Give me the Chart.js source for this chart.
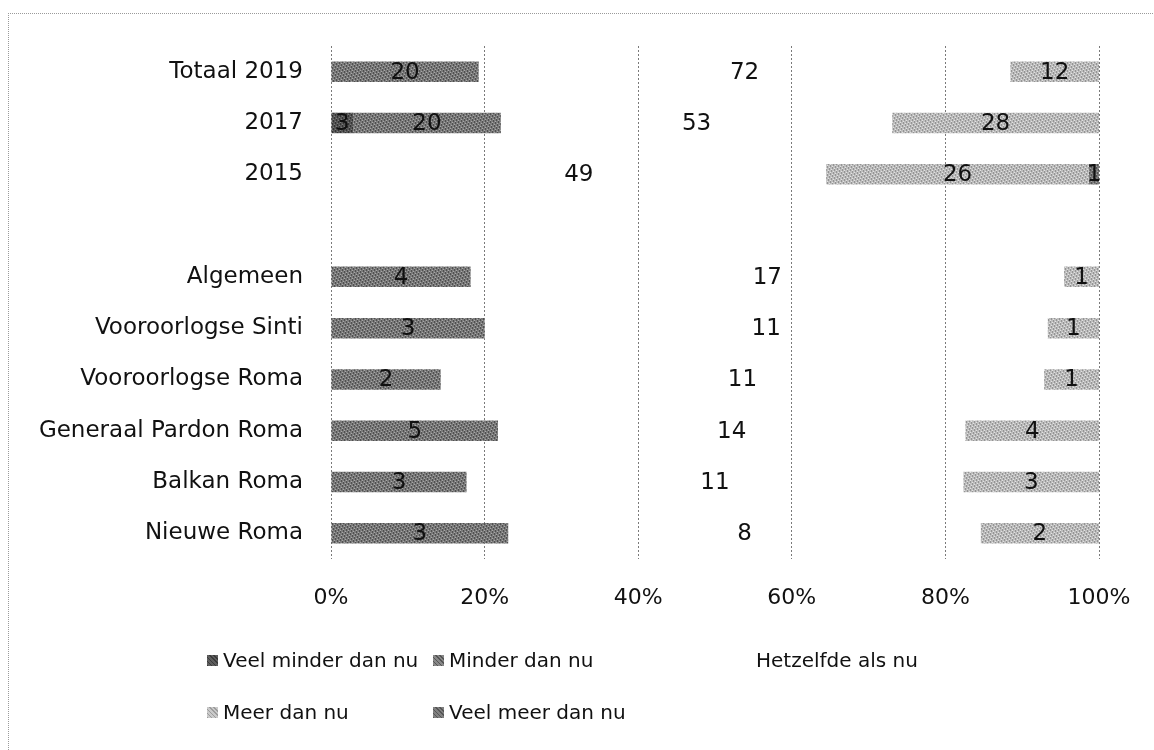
<!DOCTYPE html>
<html>
<head>
<meta charset="utf-8">
<script src="https://cdn.jsdelivr.net/npm/chart.js@4.4.1/dist/chart.umd.min.js"></script>
<style>
  html, body { margin: 0; padding: 0; background: #fff; }
  #wrap { position: relative; width: 1154px; height: 750px; overflow: hidden; }
  #frame { position: absolute; left: 8px; top: 13px; width: 1160px; height: 760px;
           border-left: 1px dotted #9a9a9a; border-top: 1px dotted #9a9a9a; }
  canvas { position: absolute; left: 0; top: 0; }
  .lg { position: absolute; font-family: "DejaVu Sans", sans-serif; font-size: 20px; color: #111; white-space: nowrap; line-height: 24px; }
  .bx { position: absolute; width: 11px; height: 11px; }
</style>
</head>
<body>
<div id="wrap">
  <div id="frame"></div>
  <canvas id="c" width="1154" height="750"></canvas>
  <div id="legend"></div>
</div>
<script>
// ---- data (counts) ----
const categories = ['Totaal 2019', '2017', '2015', '', 'Algemeen', 'Vooroorlogse Sinti',
  'Vooroorlogse Roma', 'Generaal Pardon Roma', 'Balkan Roma', 'Nieuwe Roma'];
const seriesNames = ['Veel minder dan nu', 'Minder dan nu', 'Hetzelfde als nu', 'Meer dan nu', 'Veel meer dan nu'];
const veelMinder = [0, 3, 0, 0, 0, 0, 0, 0, 0, 0];
const minder     = [20, 20, 0, 0, 4, 3, 2, 5, 3, 3];
const hetzelfde  = [72, 53, 49, 0, 17, 11, 11, 14, 11, 8];
const meer       = [12, 28, 26, 0, 1, 1, 1, 4, 3, 2];
const veelMeer   = [0, 0, 1, 0, 0, 0, 0, 0, 0, 0];
const xTicks = [0, 20, 40, 60, 80, 100];

const counts = [veelMinder, minder, hetzelfde, meer, veelMeer];
const totals = categories.map((_, i) => counts.reduce((s, arr) => s + arr[i], 0));
const toPct = arr => arr.map((v, i) => totals[i] ? v / totals[i] * 100 : 0);

// ---- textures ----
function texture(base, dark, light) {
  const c = document.createElement('canvas');
  c.width = 8; c.height = 8;
  const g = c.getContext('2d');
  g.fillStyle = base; g.fillRect(0, 0, 8, 8);
  for (let y = 0; y < 8; y++) {
    for (let x = 0; x < 8; x++) {
      const k = (x + y * 3) % 8;
      if (k === 0 || k === 5) { g.fillStyle = dark; g.fillRect(x, y, 1, 1); }
      else if (k === 2) { g.fillStyle = light; g.fillRect(x, y, 1, 1); }
    }
  }
  return g.createPattern(c, 'repeat');
}
const ctx = document.getElementById('c').getContext('2d');
const fills = [
  texture('#555555', '#333333', '#7a7a7a'),
  texture('#7c7c7c', '#505050', '#a8a8a8'),
  'rgba(255,255,255,0)',
  texture('#bebebe', '#949494', '#e2e2e2'),
  texture('#7a7a7a', '#555555', '#a2a2a2')
];

const datasets = counts.map((arr, k) => ({
  label: seriesNames[k],
  data: toPct(arr),
  raw: arr,
  backgroundColor: fills[k],
  borderWidth: 0,
  categoryPercentage: 1,
  barPercentage: 0.4
}));

const valueLabels = {
  id: 'valueLabels',
  afterDatasetsDraw(chart) {
    const c = chart.ctx;
    c.save();
    c.font = '23px "DejaVu Sans", sans-serif';
    c.fillStyle = '#111';
    c.textAlign = 'center';
    c.textBaseline = 'middle';
    chart.data.datasets.forEach((ds, k) => {
      const meta = chart.getDatasetMeta(k);
      meta.data.forEach((el, i) => {
        const v = ds.raw[i];
        if (!v) return;
        c.fillText(String(v), (el.x + el.base) / 2, el.y + 1);
      });
    });
    c.restore();
  }
};

new Chart(ctx, {
  type: 'bar',
  data: { labels: categories, datasets },
  options: {
    indexAxis: 'y',
    responsive: false,
    animation: false,
    layout: { padding: { top: 46, left: 10, right: 55, bottom: 141 } },
    plugins: { legend: { display: false }, tooltip: { enabled: false } },
    scales: {
      x: {
        stacked: true, min: 0, max: 100,
        afterBuildTicks: s => { s.ticks = xTicks.map(v => ({ value: v })); },
        afterFit: s => { s.height = 50; s.paddingRight = 0; s.paddingLeft = 0; },
        ticks: { callback: v => v + '%', color: '#111', padding: 26,
                 font: { family: 'DejaVu Sans', size: 22 } },
        grid: { color: '#7a7a7a', lineWidth: 1, drawTicks: false },
        border: { display: false, dash: [2, 2] }
      },
      y: {
        stacked: true,
        afterFit: s => { s.width = 321; },
        ticks: { color: '#111', padding: 28, font: { family: 'DejaVu Sans', size: 23 } },
        grid: { display: false, drawTicks: false },
        border: { display: false }
      }
    }
  },
  plugins: [valueLabels]
});

// ---- legend ----
const legendPos = [
  { x: 207, y: 660 }, { x: 433, y: 660 }, { x: 740, y: 660 },
  { x: 207, y: 712 }, { x: 433, y: 712 }
];
const boxCss = [
  'repeating-linear-gradient(45deg,#3a3a3a 0 1px,#5e5e5e 1px 3px)',
  'repeating-linear-gradient(45deg,#555 0 1px,#888 1px 3px)',
  'transparent',
  'repeating-linear-gradient(45deg,#9c9c9c 0 1px,#cacaca 1px 3px)',
  'repeating-linear-gradient(45deg,#555 0 1px,#808080 1px 3px)'
];
const lg = document.getElementById('legend');
seriesNames.forEach((name, k) => {
  const p = legendPos[k];
  const b = document.createElement('div');
  b.className = 'bx';
  b.style.left = p.x + 'px'; b.style.top = (p.y - 5) + 'px';
  b.style.background = boxCss[k];
  lg.appendChild(b);
  const t = document.createElement('div');
  t.className = 'lg';
  t.textContent = name;
  t.style.left = (p.x + 16) + 'px'; t.style.top = (p.y - 12) + 'px';
  lg.appendChild(t);
});
</script>
</body>
</html>
